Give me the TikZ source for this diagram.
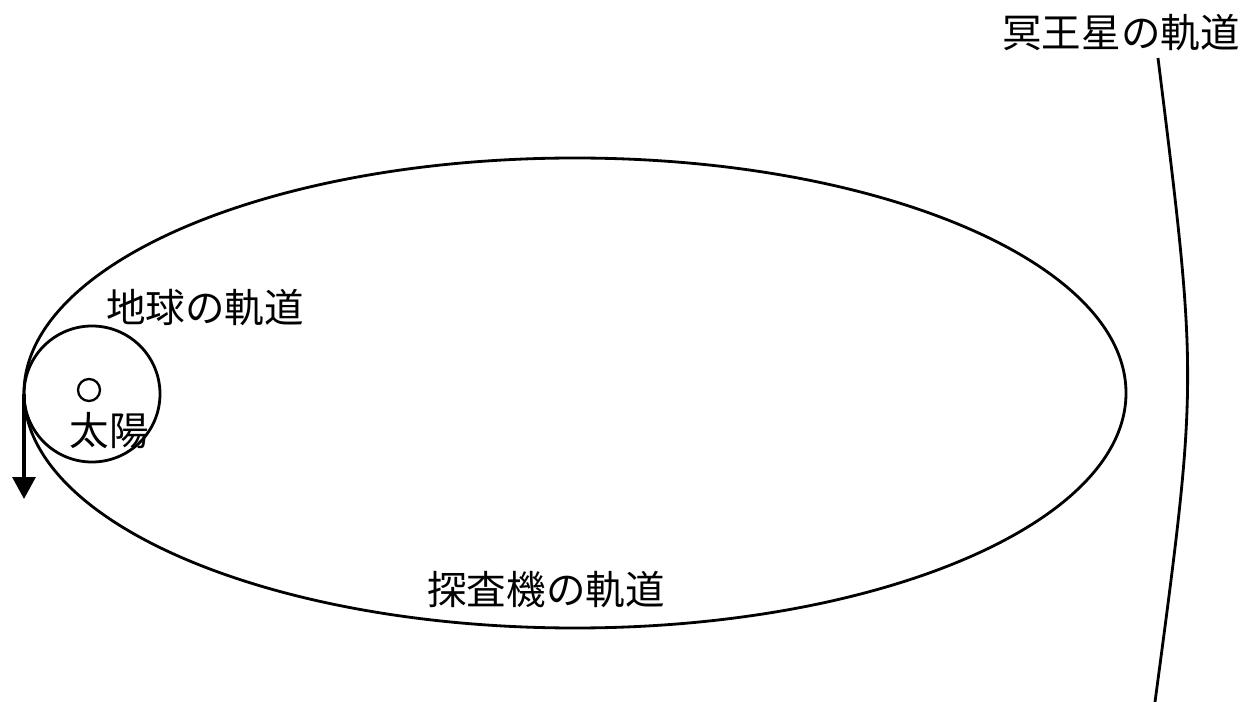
\documentclass[tikz,border=0pt]{standalone}
\usepackage{fontspec}
\newfontfamily\jp{Noto Sans CJK JP}
\usetikzlibrary{arrows.meta}
\begin{document}
\begin{tikzpicture}[x=0.02cm,y=-0.02cm,
  orbit/.style={line width=1.6pt,black},
  lbl/.style={font=\jp\fontsize{22.5}{27}\selectfont,inner sep=0pt},
  probe/.style={line width=1.8pt,-{Triangle[width=0.46cm,length=0.44cm]}}]
\useasboundingbox (0,0) rectangle (1245,702);
% probe orbit (ellipse)
\draw[orbit] (575,393) ellipse [x radius=551, y radius=-235];
% earth orbit
\draw[orbit] (92,394) circle [radius=68];
% sun
\draw[line width=1.3pt] (89,390) circle [radius=11];
% pluto orbit
\coordinate (pt) at (1158,58);
\coordinate (pb) at (1155,702);
\draw[orbit] (pt) .. controls (1198,380) .. (pb);
% probe arrow
\coordinate (as) at (24,394);
\coordinate (ae) at (24,499);
\draw[probe] (as) -- (ae);
% labels
\node[lbl] (earth) at (205,308) {地球の軌道};
\node[lbl] (sun) at (109,431) {太陽};
\node[lbl] (probeL) at (546,590) {探査機の軌道};
\node[lbl] (pluto) at (1121,33) {冥王星の軌道};
\end{tikzpicture}
\end{document}
